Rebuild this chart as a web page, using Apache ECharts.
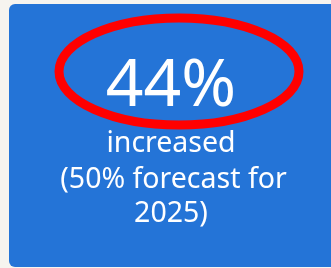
<!DOCTYPE html>
<html>
<head>
<meta charset="utf-8">
<script src="https://cdn.jsdelivr.net/npm/echarts@6/dist/echarts.min.js"></script>
<style>
  html, body { margin: 0; padding: 0; background: #f6f4ef; }
  #chart { width: 331px; height: 268px; }
</style>
</head>
<body>
<div id="chart"></div>
<script>
let kpiValue = [44]
let kpiLabel = ['increased']
let forecastValue = [50]
let forecastYear = [2025]

let blue = '#2474d7'
let fontFamily = '"Noto Sans", "Open Sans", sans-serif'

function textItem(text, x, y, size) {
  return {
    type: 'text',
    x: x, y: y,
    style: {
      text: text,
      fill: '#fff',
      font: `${size}px ${fontFamily}`,
      align: 'center',
      verticalAlign: 'middle'
    }
  }
}

let chart = echarts.init(document.getElementById('chart'))

chart.setOption({
  backgroundColor: '#f6f4ef',
  graphic: [
    {
      type: 'rect',
      shape: { x: 9, y: 4, width: 340, height: 263, r: 6 },
      style: { fill: blue }
    },
    textItem(`${kpiValue[0]}%`, 171, 87, 66),
    {
      type: 'ellipse',
      shape: { cx: 179, cy: 71.5, rx: 120, ry: 53.5 },
      style: { fill: 'none', stroke: '#ff0000', lineWidth: 9 }
    },
    textItem(kpiLabel[0], 171, 144, 28.5),
    textItem(`(${forecastValue[0]}% forecast for`, 173.5, 180, 28.5),
    textItem(`${forecastYear[0]})`, 171, 214, 28.5)
  ]
})
</script>
</body>
</html>
